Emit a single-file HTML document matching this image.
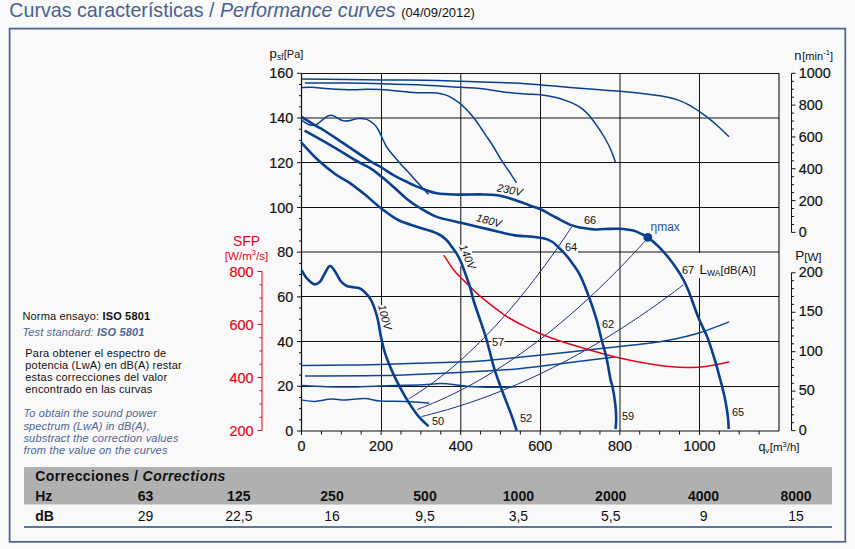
<!DOCTYPE html>
<html><head><meta charset="utf-8"><style>
html,body{margin:0;padding:0;background:#f9f9f9;}
body{width:855px;height:549px;overflow:hidden;position:relative;font-family:"Liberation Sans", sans-serif;}
svg{position:absolute;left:0;top:0;}
svg text{font-family:"Liberation Sans", sans-serif;}
</style></head><body>
<svg width="855" height="549" viewBox="0 0 855 549">
<rect x="9.6" y="28.6" width="835.7" height="513.2" fill="none" stroke="#4a6090" stroke-width="1.7"/>
<text x="9.3" y="16.8" font-size="19.65" fill="#476190">Curvas características / <tspan font-style="italic">Performance curves</tspan> <tspan font-size="13" fill="#111">(04/09/2012)</tspan></text>
<path d="M301.5,118.00 H779 M301.5,162.50 H779 M301.5,207.50 H779 M301.5,252.00 H779 M301.5,296.50 H779 M301.5,341.50 H779 M301.5,386.50 H779 M381.50,73.3 V431 M460.80,73.3 V431 M540.50,73.3 V431 M620.00,73.3 V431 M699.50,73.3 V431" stroke="#111" stroke-width="1" fill="none"/>
<path d="M301.5,73.5 H779 V431" stroke="#111" stroke-width="1.1" fill="none"/>
<path d="M301.5,73.5 V431 H779" stroke="#111" stroke-width="1.2" fill="none"/>
<rect x="455" y="245" width="17" height="21" fill="#f9f9f9"/>
<rect x="376" y="305" width="16" height="35" fill="#f9f9f9"/>
<rect x="564" y="241" width="14" height="12" fill="#f9f9f9"/>
<rect x="491.3" y="336" width="13.3" height="12" fill="#f9f9f9"/>
<rect x="680" y="253" width="77" height="25" fill="#f9f9f9"/>
<path d="M297.0,431.00 h4.5 M299.0,419.82 h2.5 M299.0,408.64 h2.5 M299.0,397.47 h2.5 M297.0,386.29 h4.5 M299.0,375.11 h2.5 M299.0,363.93 h2.5 M299.0,352.75 h2.5 M297.0,341.57 h4.5 M299.0,330.40 h2.5 M299.0,319.22 h2.5 M299.0,308.04 h2.5 M297.0,296.86 h4.5 M299.0,285.68 h2.5 M299.0,274.51 h2.5 M299.0,263.33 h2.5 M297.0,252.15 h4.5 M299.0,240.97 h2.5 M299.0,229.79 h2.5 M299.0,218.62 h2.5 M297.0,207.44 h4.5 M299.0,196.26 h2.5 M299.0,185.08 h2.5 M299.0,173.90 h2.5 M297.0,162.73 h4.5 M299.0,151.55 h2.5 M299.0,140.37 h2.5 M299.0,129.19 h2.5 M297.0,118.01 h4.5 M299.0,106.83 h2.5 M299.0,95.66 h2.5 M299.0,84.48 h2.5 M297.0,73.30 h4.5 M301.50,431 v4.0 M321.40,431 v3.5 M341.29,431 v3.5 M361.19,431 v3.5 M381.08,431 v4.0 M400.98,431 v3.5 M420.87,431 v3.5 M440.77,431 v3.5 M460.67,431 v4.0 M480.56,431 v3.5 M500.46,431 v3.5 M520.35,431 v3.5 M540.25,431 v4.0 M560.14,431 v3.5 M580.04,431 v3.5 M599.94,431 v3.5 M619.83,431 v4.0 M639.73,431 v3.5 M659.62,431 v3.5 M679.52,431 v3.5 M699.41,431 v4.0 M719.31,431 v3.5 M739.21,431 v3.5 M759.10,431 v3.5" stroke="#111" stroke-width="1" fill="none"/>
<path d="M262,271.5 V430.5 M257.5,430.50 H262 M259.5,417.25 H262 M259.5,404.00 H262 M259.5,390.75 H262 M257.5,377.50 H262 M259.5,364.25 H262 M259.5,351.00 H262 M259.5,337.75 H262 M257.5,324.50 H262 M259.5,311.25 H262 M259.5,298.00 H262 M259.5,284.75 H262 M257.5,271.50 H262" stroke="#e2061f" stroke-width="1" fill="none"/>
<path d="M791.5,73.3 V232.4 M791.5,232.40 h4.0 M791.5,224.44 h2.5 M791.5,216.49 h2.5 M791.5,208.53 h2.5 M791.5,200.58 h4.0 M791.5,192.62 h2.5 M791.5,184.67 h2.5 M791.5,176.72 h2.5 M791.5,168.76 h4.0 M791.5,160.81 h2.5 M791.5,152.85 h2.5 M791.5,144.90 h2.5 M791.5,136.94 h4.0 M791.5,128.99 h2.5 M791.5,121.03 h2.5 M791.5,113.08 h2.5 M791.5,105.12 h4.0 M791.5,97.16 h2.5 M791.5,89.21 h2.5 M791.5,81.25 h2.5 M791.5,73.30 h4.0 M791.5,272.8 V430.6 M791.5,430.60 h4.0 M791.5,422.71 h2.5 M791.5,414.82 h2.5 M791.5,406.93 h2.5 M791.5,399.04 h2.5 M791.5,391.15 h4.0 M791.5,383.26 h2.5 M791.5,375.37 h2.5 M791.5,367.48 h2.5 M791.5,359.59 h2.5 M791.5,351.70 h4.0 M791.5,343.81 h2.5 M791.5,335.92 h2.5 M791.5,328.03 h2.5 M791.5,320.14 h2.5 M791.5,312.25 h4.0 M791.5,304.36 h2.5 M791.5,296.47 h2.5 M791.5,288.58 h2.5 M791.5,280.69 h2.5 M791.5,272.80 h4.0" stroke="#111" stroke-width="1" fill="none"/>
<path d="M301.50,79.10 C309.05,79.15 333.40,79.27 346.80,79.40 C360.20,79.53 368.85,79.75 381.90,79.90 C394.95,80.05 411.95,80.07 425.10,80.30 C438.25,80.53 449.98,80.97 460.80,81.30 C471.62,81.63 480.95,82.00 490.00,82.30 C499.05,82.60 506.67,82.67 515.10,83.10 C523.53,83.53 531.45,84.17 540.60,84.90 C549.75,85.63 561.20,86.77 570.00,87.50 C578.80,88.23 585.05,88.67 593.40,89.30 C601.75,89.93 611.33,90.52 620.10,91.30 C628.87,92.08 639.35,93.25 646.00,94.00 C652.65,94.75 654.75,94.82 660.00,95.80 C665.25,96.78 672.63,98.35 677.50,99.90 C682.37,101.45 685.48,103.12 689.20,105.10 C692.92,107.08 696.48,109.55 699.80,111.80 C703.12,114.05 705.98,116.10 709.10,118.60 C712.22,121.10 715.18,123.78 718.50,126.80 C721.82,129.82 727.25,135.05 729.00,136.70" stroke="#08408f" stroke-width="1.5" fill="none" stroke-linejoin="round" stroke-linecap="butt" />
<path d="M304.90,82.90 C311.88,82.93 333.97,82.95 346.80,83.10 C359.63,83.25 368.85,83.45 381.90,83.80 C394.95,84.15 411.95,84.62 425.10,85.20 C438.25,85.78 451.65,86.77 460.80,87.30 C469.95,87.83 471.93,87.52 480.00,88.40 C488.07,89.28 501.40,91.67 509.20,92.60 C517.00,93.53 521.57,93.63 526.80,94.00 C532.03,94.37 535.73,94.23 540.60,94.80 C545.47,95.37 551.77,96.43 556.00,97.40 C560.23,98.37 562.90,99.47 566.00,100.60 C569.10,101.73 571.93,102.87 574.60,104.20 C577.27,105.53 579.57,106.72 582.00,108.60 C584.43,110.48 586.30,112.03 589.20,115.50 C592.10,118.97 596.25,124.65 599.40,129.40 C602.55,134.15 605.92,139.90 608.10,144.00 C610.28,148.10 611.28,150.97 612.50,154.00 C613.72,157.03 614.92,160.83 615.40,162.20" stroke="#08408f" stroke-width="1.5" fill="none" stroke-linejoin="round" stroke-linecap="butt" />
<path d="M301.50,87.50 C303.20,87.47 307.08,87.10 311.70,87.30 C316.32,87.50 322.38,88.30 329.20,88.70 C336.02,89.10 346.35,89.62 352.60,89.70 C358.85,89.78 362.02,89.22 366.70,89.20 C371.38,89.18 375.15,89.25 380.70,89.60 C386.25,89.95 393.58,90.77 400.00,91.30 C406.42,91.83 413.07,92.53 419.20,92.80 C425.33,93.07 432.32,92.52 436.80,92.90 C441.28,93.28 443.40,94.15 446.10,95.10 C448.80,96.05 450.65,97.18 453.00,98.60 C455.35,100.02 458.03,101.87 460.20,103.60 C462.37,105.33 464.20,107.18 466.00,109.00 C467.80,110.82 469.33,112.53 471.00,114.50 C472.67,116.47 474.33,118.55 476.00,120.80 C477.67,123.05 479.33,125.53 481.00,128.00 C482.67,130.47 484.10,132.77 486.00,135.60 C487.90,138.43 489.75,140.78 492.40,145.00 C495.05,149.22 498.98,156.30 501.90,160.90 C504.82,165.50 507.48,168.95 509.90,172.60 C512.32,176.25 515.32,181.10 516.40,182.80" stroke="#08408f" stroke-width="1.5" fill="none" stroke-linejoin="round" stroke-linecap="butt" />
<path d="M301.50,119.80 C301.92,120.15 303.07,121.23 304.00,121.90 C304.93,122.57 306.10,123.30 307.10,123.80 C308.10,124.30 309.02,124.65 310.00,124.90 C310.98,125.15 311.92,125.35 313.00,125.30 C314.08,125.25 315.42,125.10 316.50,124.60 C317.58,124.10 318.33,123.22 319.50,122.30 C320.67,121.38 322.25,120.10 323.50,119.10 C324.75,118.10 325.92,116.92 327.00,116.30 C328.08,115.68 329.00,115.52 330.00,115.40 C331.00,115.28 331.77,115.17 333.00,115.60 C334.23,116.03 335.98,117.22 337.40,118.00 C338.82,118.78 340.13,119.80 341.50,120.30 C342.87,120.80 344.18,120.97 345.60,121.00 C347.02,121.03 347.85,120.92 350.00,120.50 C352.15,120.08 355.72,118.68 358.50,118.50 C361.28,118.32 364.17,118.52 366.70,119.40 C369.23,120.28 371.75,122.03 373.70,123.80 C375.65,125.57 376.87,127.38 378.40,130.00 C379.93,132.62 381.38,136.47 382.90,139.50 C384.42,142.53 384.78,144.42 387.50,148.20 C390.22,151.98 395.30,157.72 399.20,162.20 C403.10,166.68 407.00,170.80 410.90,175.10 C414.80,179.40 419.67,184.78 422.60,188.00 C425.53,191.22 427.52,193.33 428.50,194.40" stroke="#08408f" stroke-width="1.5" fill="none" stroke-linejoin="round" stroke-linecap="butt" />
<path d="M408.70,398.88 C409.61,398.33 412.32,396.68 414.14,395.54 C415.95,394.40 417.76,393.23 419.57,392.04 C421.39,390.84 423.20,389.62 425.01,388.36 C426.82,387.11 428.63,385.84 430.45,384.53 C432.26,383.22 434.07,381.89 435.88,380.53 C437.70,379.17 439.51,377.78 441.32,376.36 C443.13,374.94 444.94,373.50 446.76,372.03 C448.57,370.56 450.38,369.06 452.19,367.53 C454.01,366.01 455.82,364.45 457.63,362.87 C459.44,361.29 461.25,359.68 463.07,358.04 C464.88,356.41 466.69,354.74 468.50,353.05 C470.32,351.36 472.13,349.64 473.94,347.89 C475.75,346.15 477.56,344.37 479.38,342.57 C481.19,340.77 483.00,338.94 484.81,337.08 C486.63,335.22 488.44,333.34 490.25,331.43 C492.06,329.52 493.87,327.58 495.69,325.61 C497.50,323.64 499.31,321.65 501.12,319.63 C502.94,317.60 504.75,315.55 506.56,313.48 C508.37,311.40 510.18,309.29 512.00,307.16 C513.81,305.03 515.62,302.87 517.43,300.68 C519.25,298.50 521.06,296.28 522.87,294.04 C524.68,291.80 526.49,289.53 528.31,287.23 C530.12,284.93 531.93,282.61 533.74,280.25 C535.56,277.90 537.37,275.52 539.18,273.11 C540.99,270.70 542.80,268.27 544.62,265.81 C546.43,263.34 548.24,260.85 550.05,258.34 C551.87,255.82 553.68,253.27 555.49,250.70 C557.30,248.13 559.11,245.53 560.93,242.90 C562.74,240.27 564.55,237.62 566.36,234.93 C568.18,232.25 570.89,228.16 571.80,226.80" stroke="#1f2e88" stroke-width="1" fill="none" stroke-linejoin="round" stroke-linecap="butt" />
<path d="M417.00,409.53 C418.28,409.04 422.11,407.60 424.67,406.59 C427.22,405.58 429.78,404.53 432.33,403.46 C434.89,402.38 437.44,401.27 440.00,400.13 C442.56,398.99 445.11,397.82 447.67,396.62 C450.22,395.42 452.78,394.18 455.33,392.92 C457.89,391.65 460.44,390.36 463.00,389.03 C465.56,387.70 468.11,386.34 470.67,384.95 C473.22,383.56 475.78,382.14 478.33,380.68 C480.89,379.23 483.44,377.74 486.00,376.22 C488.56,374.71 491.11,373.16 493.67,371.58 C496.22,370.00 498.78,368.38 501.33,366.74 C503.89,365.10 506.44,363.42 509.00,361.72 C511.56,360.01 514.11,358.27 516.67,356.50 C519.22,354.73 521.78,352.93 524.33,351.10 C526.89,349.26 529.44,347.40 532.00,345.50 C534.56,343.61 537.11,341.68 539.67,339.72 C542.22,337.76 544.78,335.77 547.33,333.75 C549.89,331.73 552.44,329.68 555.00,327.59 C557.56,325.51 560.11,323.39 562.67,321.24 C565.22,319.09 567.78,316.91 570.33,314.70 C572.89,312.49 575.44,310.25 578.00,307.98 C580.56,305.70 583.11,303.40 585.67,301.06 C588.22,298.72 590.78,296.35 593.33,293.95 C595.89,291.55 598.44,289.12 601.00,286.66 C603.56,284.19 606.11,281.70 608.67,279.17 C611.22,276.65 613.78,274.09 616.33,271.50 C618.89,268.91 621.44,266.29 624.00,263.64 C626.56,260.98 629.11,258.30 631.67,255.58 C634.22,252.87 636.78,250.12 639.33,247.34 C641.89,244.56 645.72,240.32 647.00,238.91" stroke="#1f2e88" stroke-width="1" fill="none" stroke-linejoin="round" stroke-linecap="butt" />
<path d="M421.50,416.57 C422.95,416.21 427.32,415.14 430.23,414.39 C433.14,413.64 436.05,412.86 438.96,412.06 C441.87,411.26 444.78,410.43 447.69,409.58 C450.60,408.73 453.51,407.85 456.42,406.95 C459.33,406.04 462.24,405.11 465.15,404.16 C468.06,403.21 470.97,402.23 473.88,401.22 C476.79,400.21 479.70,399.18 482.61,398.13 C485.52,397.07 488.43,395.99 491.34,394.88 C494.25,393.77 497.16,392.64 500.07,391.48 C502.98,390.32 505.89,389.14 508.80,387.93 C511.71,386.72 514.62,385.49 517.53,384.23 C520.44,382.97 523.35,381.68 526.26,380.37 C529.17,379.06 532.08,377.72 534.99,376.36 C537.90,375.00 540.81,373.61 543.72,372.20 C546.63,370.79 549.54,369.35 552.45,367.89 C555.36,366.42 558.27,364.93 561.18,363.42 C564.09,361.90 567.00,360.36 569.91,358.80 C572.82,357.23 575.73,355.64 578.64,354.02 C581.55,352.41 584.46,350.77 587.37,349.10 C590.28,347.43 593.19,345.74 596.10,344.02 C599.01,342.30 601.92,340.56 604.83,338.79 C607.74,337.02 610.65,335.22 613.56,333.40 C616.47,331.58 619.38,329.74 622.29,327.87 C625.20,326.00 628.11,324.10 631.02,322.18 C633.93,320.26 636.84,318.31 639.75,316.34 C642.66,314.36 645.57,312.36 648.48,310.34 C651.39,308.32 654.30,306.27 657.21,304.19 C660.12,302.12 663.03,300.02 665.94,297.89 C668.85,295.77 671.76,293.61 674.67,291.44 C677.58,289.26 681.94,285.93 683.40,284.83" stroke="#1f2e88" stroke-width="1" fill="none" stroke-linejoin="round" stroke-linecap="butt" />
<path d="M301.50,365.60 C309.58,365.50 336.92,365.18 350.00,365.00 C363.08,364.82 368.62,364.80 380.00,364.50 C391.38,364.20 404.87,363.63 418.30,363.20 C431.73,362.77 450.32,362.25 460.60,361.90 C470.88,361.55 470.23,361.87 480.00,361.10 C489.77,360.33 504.20,358.83 519.20,357.30 C534.20,355.77 553.25,353.70 570.00,351.90 C586.75,350.10 604.70,348.20 619.70,346.50 C634.70,344.80 650.25,343.07 660.00,341.70 C669.75,340.33 671.62,339.78 678.20,338.30 C684.78,336.82 691.00,335.53 699.50,332.80 C708.00,330.07 724.25,323.72 729.20,321.90" stroke="#0c4796" stroke-width="1.5" fill="none" stroke-linejoin="round" stroke-linecap="butt" />
<path d="M305.00,376.00 C317.50,375.93 359.00,375.97 380.00,375.60 C401.00,375.23 417.57,374.33 431.00,373.80 C444.43,373.27 452.43,372.83 460.60,372.40 C468.77,371.97 470.23,371.80 480.00,371.20 C489.77,370.60 504.20,370.27 519.20,368.80 C534.20,367.33 554.10,364.35 570.00,362.40 C585.90,360.45 607.17,357.98 614.60,357.10" stroke="#0c4796" stroke-width="1.5" fill="none" stroke-linejoin="round" stroke-linecap="butt" />
<path d="M301.50,385.60 C308.75,385.83 331.92,386.95 345.00,387.00 C358.08,387.05 367.78,386.25 380.00,385.90 C392.22,385.55 408.10,385.28 418.30,384.90 C428.50,384.52 434.83,383.60 441.20,383.60 C447.57,383.60 451.82,384.40 456.50,384.90 C461.18,385.40 462.95,386.20 469.30,386.60 C475.65,387.00 486.70,387.27 494.60,387.30 C502.50,387.33 513.02,386.88 516.70,386.80" stroke="#0c4796" stroke-width="1.5" fill="none" stroke-linejoin="round" stroke-linecap="butt" />
<path d="M301.50,400.00 C303.75,400.23 310.08,401.57 315.00,401.40 C319.92,401.23 326.00,399.23 331.00,399.00 C336.00,398.77 339.33,400.07 345.00,400.00 C350.67,399.93 359.17,398.42 365.00,398.60 C370.83,398.78 373.25,400.62 380.00,401.10 C386.75,401.58 397.32,401.18 405.50,401.50 C413.68,401.82 425.17,402.75 429.10,403.00" stroke="#0c4796" stroke-width="1.5" fill="none" stroke-linejoin="round" stroke-linecap="butt" />
<path d="M443.80,255.10 C445.67,257.85 450.77,266.48 455.00,271.60 C459.23,276.72 465.02,281.70 469.20,285.80 C473.38,289.90 474.27,291.37 480.10,296.20 C485.93,301.03 496.92,309.85 504.20,314.80 C511.48,319.75 517.57,322.67 523.80,325.90 C530.03,329.13 535.57,331.68 541.60,334.20 C547.63,336.72 552.38,338.50 560.00,341.00 C567.62,343.50 577.35,346.37 587.30,349.20 C597.25,352.03 607.58,355.28 619.70,358.00 C631.82,360.72 648.73,363.93 660.00,365.50 C671.27,367.07 679.72,367.23 687.30,367.40 C694.88,367.57 698.52,367.40 705.50,366.50 C712.48,365.60 725.25,362.75 729.20,362.00" stroke="#e2061f" stroke-width="1.5" fill="none" stroke-linejoin="round" stroke-linecap="butt" />
<path d="M301.50,116.80 C303.92,118.30 312.35,123.60 316.00,125.80 C319.65,128.00 319.12,127.28 323.40,130.00 C327.68,132.72 333.93,136.93 341.70,142.10 C349.47,147.27 363.33,156.77 370.00,161.00 C376.67,165.23 377.80,165.15 381.70,167.50 C385.60,169.85 389.50,172.85 393.40,175.10 C397.30,177.35 400.82,178.95 405.10,181.00 C409.38,183.05 413.82,185.35 419.10,187.40 C424.38,189.45 430.35,192.10 436.80,193.30 C443.25,194.50 450.60,194.42 457.80,194.60 C465.00,194.78 473.38,194.28 480.00,194.40 C486.62,194.52 491.65,194.38 497.50,195.30 C503.35,196.22 509.83,198.25 515.10,199.90 C520.37,201.55 524.85,203.63 529.10,205.20 C533.35,206.77 536.12,207.25 540.60,209.30 C545.08,211.35 550.90,214.87 556.00,217.50 C561.10,220.13 566.92,223.38 571.20,225.10 C575.48,226.82 578.00,227.08 581.70,227.80 C585.40,228.52 589.50,229.20 593.40,229.40 C597.30,229.60 600.82,229.10 605.10,229.00 C609.38,228.90 614.42,228.53 619.10,228.80 C623.78,229.07 629.30,229.65 633.20,230.60 C637.10,231.55 640.07,233.37 642.50,234.50 C644.93,235.63 645.07,235.35 647.80,237.40 C650.53,239.45 654.92,242.75 658.90,246.80 C662.88,250.85 668.00,256.88 671.70,261.70 C675.40,266.52 678.37,271.02 681.10,275.70 C683.83,280.38 685.23,282.87 688.10,289.80 C690.97,296.73 695.08,309.37 698.30,317.30 C701.52,325.23 704.68,330.42 707.40,337.40 C710.12,344.38 712.75,353.27 714.60,359.20 C716.45,365.13 717.27,368.53 718.50,373.00 C719.73,377.47 720.98,382.00 722.00,386.00 C723.02,390.00 723.80,393.17 724.60,397.00 C725.40,400.83 726.20,405.17 726.80,409.00 C727.40,412.83 727.88,416.67 728.20,420.00 C728.52,423.33 728.62,427.50 728.70,429.00" stroke="#08408f" stroke-width="2.6" fill="none" stroke-linejoin="round" stroke-linecap="butt" />
<path d="M304.60,130.70 C308.97,133.15 322.40,140.52 330.80,145.40 C339.20,150.28 348.43,156.20 355.00,160.00 C361.57,163.80 365.72,165.37 370.20,168.20 C374.68,171.03 378.03,173.90 381.90,177.00 C385.77,180.10 389.13,183.07 393.40,186.80 C397.67,190.53 403.20,195.95 407.50,199.40 C411.80,202.85 414.32,204.58 419.20,207.50 C424.08,210.42 429.87,214.37 436.80,216.90 C443.73,219.43 454.20,221.12 460.80,222.70 C467.40,224.28 470.28,224.93 476.40,226.40 C482.52,227.87 491.05,230.00 497.50,231.50 C503.95,233.00 509.25,234.52 515.10,235.40 C520.95,236.28 527.73,236.27 532.60,236.80 C537.47,237.33 540.98,237.73 544.30,238.60 C547.62,239.47 550.30,240.70 552.50,242.00 C554.70,243.30 555.40,244.40 557.50,246.40 C559.60,248.40 562.55,251.08 565.10,254.00 C567.65,256.92 570.25,260.25 572.80,263.90 C575.35,267.55 577.68,270.33 580.40,275.90 C583.12,281.47 586.43,290.08 589.10,297.30 C591.77,304.52 594.27,311.92 596.40,319.20 C598.53,326.48 600.23,334.63 601.90,341.00 C603.57,347.37 604.95,350.90 606.40,357.40 C607.85,363.90 609.58,375.13 610.60,380.00 C611.62,384.87 611.72,382.55 612.50,386.60 C613.28,390.65 614.68,399.15 615.30,404.30 C615.92,409.45 616.15,413.38 616.20,417.50 C616.25,421.62 615.70,427.08 615.60,429.00" stroke="#08408f" stroke-width="2.6" fill="none" stroke-linejoin="round" stroke-linecap="butt" />
<path d="M301.00,142.10 C303.75,145.00 311.82,154.18 317.50,159.50 C323.18,164.82 329.63,170.02 335.10,174.00 C340.57,177.98 345.23,179.88 350.30,183.40 C355.37,186.92 360.43,191.00 365.50,195.10 C370.57,199.20 375.25,203.85 380.70,208.00 C386.15,212.15 391.78,216.77 398.20,220.00 C404.62,223.23 412.77,225.18 419.20,227.40 C425.63,229.62 432.33,231.28 436.80,233.30 C441.27,235.32 443.53,237.28 446.00,239.50 C448.47,241.72 449.77,244.15 451.60,246.60 C453.43,249.05 455.37,251.47 457.00,254.20 C458.63,256.93 459.93,259.53 461.40,263.00 C462.87,266.47 464.37,271.00 465.80,275.00 C467.23,279.00 468.73,282.83 470.00,287.00 C471.27,291.17 471.88,295.00 473.40,300.00 C474.92,305.00 477.08,310.98 479.10,317.00 C481.12,323.02 483.80,330.60 485.50,336.10 C487.20,341.60 487.78,344.42 489.30,350.00 C490.82,355.58 492.35,362.52 494.60,369.60 C496.85,376.68 500.07,385.12 502.80,392.50 C505.53,399.88 508.68,407.55 511.00,413.90 C513.32,420.25 515.75,427.82 516.70,430.60" stroke="#08408f" stroke-width="2.6" fill="none" stroke-linejoin="round" stroke-linecap="butt" />
<path d="M301.50,270.20 C302.42,271.57 304.92,276.07 307.00,278.40 C309.08,280.73 311.85,283.62 314.00,284.20 C316.15,284.78 318.13,283.65 319.90,281.90 C321.67,280.15 322.95,276.33 324.60,273.70 C326.25,271.07 328.05,266.48 329.80,266.10 C331.55,265.72 333.25,268.87 335.10,271.40 C336.95,273.93 338.95,278.87 340.90,281.30 C342.85,283.73 344.65,285.02 346.80,286.00 C348.95,286.98 351.47,286.72 353.80,287.20 C356.13,287.68 358.47,287.53 360.80,288.90 C363.13,290.27 365.85,293.05 367.80,295.40 C369.75,297.75 371.03,299.73 372.50,303.00 C373.97,306.27 375.57,311.50 376.60,315.00 C377.63,318.50 377.97,320.33 378.70,324.00 C379.43,327.67 379.93,332.12 381.00,337.00 C382.07,341.88 383.13,347.33 385.10,353.30 C387.07,359.27 390.25,367.00 392.80,372.80 C395.35,378.60 397.65,383.00 400.40,388.10 C403.15,393.20 406.32,398.73 409.30,403.40 C412.28,408.07 415.10,412.28 418.30,416.10 C421.50,419.92 426.80,424.60 428.50,426.30" stroke="#08408f" stroke-width="2.6" fill="none" stroke-linejoin="round" stroke-linecap="butt" />
<circle cx="647.8" cy="237.4" r="4.4" fill="#08408f"/>
<text x="293.3" y="436.0" font-size="14.4" text-anchor="end" fill="#111" stroke="#111" stroke-width="0.2" >0</text>
<text x="293.3" y="391.3" font-size="14.4" text-anchor="end" fill="#111" stroke="#111" stroke-width="0.2" >20</text>
<text x="293.3" y="346.6" font-size="14.4" text-anchor="end" fill="#111" stroke="#111" stroke-width="0.2" >40</text>
<text x="293.3" y="301.9" font-size="14.4" text-anchor="end" fill="#111" stroke="#111" stroke-width="0.2" >60</text>
<text x="293.3" y="257.2" font-size="14.4" text-anchor="end" fill="#111" stroke="#111" stroke-width="0.2" >80</text>
<text x="293.3" y="212.5" font-size="14.4" text-anchor="end" fill="#111" stroke="#111" stroke-width="0.2" >100</text>
<text x="293.3" y="167.8" font-size="14.4" text-anchor="end" fill="#111" stroke="#111" stroke-width="0.2" >120</text>
<text x="293.3" y="123.1" font-size="14.4" text-anchor="end" fill="#111" stroke="#111" stroke-width="0.2" >140</text>
<text x="293.3" y="78.4" font-size="14.4" text-anchor="end" fill="#111" stroke="#111" stroke-width="0.2" >160</text>
<text x="301.5" y="451.0" font-size="14.4" text-anchor="middle" fill="#111" stroke="#111" stroke-width="0.2" >0</text>
<text x="381.1" y="451.0" font-size="14.4" text-anchor="middle" fill="#111" stroke="#111" stroke-width="0.2" >200</text>
<text x="460.7" y="451.0" font-size="14.4" text-anchor="middle" fill="#111" stroke="#111" stroke-width="0.2" >400</text>
<text x="540.3" y="451.0" font-size="14.4" text-anchor="middle" fill="#111" stroke="#111" stroke-width="0.2" >600</text>
<text x="619.9" y="451.0" font-size="14.4" text-anchor="middle" fill="#111" stroke="#111" stroke-width="0.2" >800</text>
<text x="699.5" y="451.0" font-size="14.4" text-anchor="middle" fill="#111" stroke="#111" stroke-width="0.2" >1000</text>
<text x="253.5" y="435.5" font-size="14.4" text-anchor="end" fill="#e2061f" stroke="#e2061f" stroke-width="0.2" >200</text>
<text x="253.5" y="382.5" font-size="14.4" text-anchor="end" fill="#e2061f" stroke="#e2061f" stroke-width="0.2" >400</text>
<text x="253.5" y="329.5" font-size="14.4" text-anchor="end" fill="#e2061f" stroke="#e2061f" stroke-width="0.2" >600</text>
<text x="253.5" y="276.5" font-size="14.4" text-anchor="end" fill="#e2061f" stroke="#e2061f" stroke-width="0.2" >800</text>
<text x="798.8" y="237.4" font-size="14.4" text-anchor="start" fill="#111" stroke="#111" stroke-width="0.2" >0</text>
<text x="798.8" y="205.5" font-size="14.4" text-anchor="start" fill="#111" stroke="#111" stroke-width="0.2" >200</text>
<text x="798.8" y="173.7" font-size="14.4" text-anchor="start" fill="#111" stroke="#111" stroke-width="0.2" >400</text>
<text x="798.8" y="141.8" font-size="14.4" text-anchor="start" fill="#111" stroke="#111" stroke-width="0.2" >600</text>
<text x="798.8" y="110.0" font-size="14.4" text-anchor="start" fill="#111" stroke="#111" stroke-width="0.2" >800</text>
<text x="798.8" y="78.1" font-size="14.4" text-anchor="start" fill="#111" stroke="#111" stroke-width="0.2" >1000</text>
<text x="798.8" y="434.8" font-size="14.4" text-anchor="start" fill="#111" stroke="#111" stroke-width="0.2" >0</text>
<text x="798.8" y="395.4" font-size="14.4" text-anchor="start" fill="#111" stroke="#111" stroke-width="0.2" >50</text>
<text x="798.8" y="355.9" font-size="14.4" text-anchor="start" fill="#111" stroke="#111" stroke-width="0.2" >100</text>
<text x="798.8" y="316.4" font-size="14.4" text-anchor="start" fill="#111" stroke="#111" stroke-width="0.2" >150</text>
<text x="798.8" y="277.0" font-size="14.4" text-anchor="start" fill="#111" stroke="#111" stroke-width="0.2" >200</text>
<text x="269.5" y="57.8" font-size="13" fill="#111">p<tspan font-size="8.3" dy="1.8" dx="0.3">sf</tspan><tspan font-size="11" dy="-1.8" dx="0.3">[Pa]</tspan></text>
<text x="794.3" y="59.7" font-size="13" fill="#111">n<tspan font-size="11" dx="0.7">[min</tspan><tspan font-size="7.5" dy="-4.8" dx="0.3">-1</tspan><tspan font-size="11" dy="4.8">]</tspan></text>
<text x="795.3" y="260.3" font-size="13.5" fill="#111">P<tspan font-size="11.5" dy="1">[W]</tspan></text>
<text x="758.4" y="451" font-size="12.5" fill="#111">q<tspan font-size="8" dy="1.5">v</tspan><tspan font-size="11.5" dy="-1.5" dx="0.4">[m</tspan><tspan font-size="7.5" dy="-4.5">3</tspan><tspan font-size="11.5" dy="4.5">/h]</tspan></text>
<text x="246.5" y="245.8" font-size="14" fill="#e2061f" text-anchor="middle">SFP</text>
<text x="246.5" y="259.9" font-size="11.6" fill="#e2061f" text-anchor="middle">[W/m<tspan font-size="7.5" dy="-4.7">3</tspan><tspan dy="4.7">/s]</tspan></text>
<text x="0" y="0" font-size="11" fill="#111" font-style="italic" transform="translate(496.5,191.2) rotate(11)">230V</text>
<text x="0" y="0" font-size="11" fill="#111" font-style="italic" transform="translate(475.6,221.0) rotate(15)">180V</text>
<text x="0" y="0" font-size="11" fill="#111" font-style="italic" transform="translate(459.0,246.5) rotate(67)">140V</text>
<text x="0" y="0" font-size="11" fill="#111" font-style="italic" transform="translate(377.9,305.8) rotate(75)">100V</text>
<text x="584.0" y="223.8" font-size="11" fill="#111">66</text>
<text x="565.0" y="250.9" font-size="11" fill="#111">64</text>
<text x="492.0" y="346.0" font-size="11" fill="#111">57</text>
<text x="602.0" y="328.0" font-size="11" fill="#111">62</text>
<text x="432.0" y="425.0" font-size="11" fill="#111">50</text>
<text x="520.0" y="422.0" font-size="11" fill="#111">52</text>
<text x="622.0" y="420.0" font-size="11" fill="#111">59</text>
<text x="732.0" y="416.0" font-size="11" fill="#111">65</text>
<text x="682.0" y="274.0" font-size="11" fill="#111">67</text>
<text x="699.6" y="274" font-size="13.5" fill="#111">L<tspan font-size="8.5" dy="1.8">WA</tspan><tspan font-size="11.3" dy="-1.8">[dB(A)]</tspan></text>
<text x="650.5" y="231.3" font-size="12" fill="#2a5599">&#951;max</text>
<text x="22.4" y="319.7" font-size="11" fill="#111" textLength="127.7" lengthAdjust="spacing">Norma ensayo: <tspan font-weight="bold">ISO 5801</tspan></text>
<text x="22.4" y="336.1" font-size="11" fill="#4f6594" font-style="italic" textLength="122" lengthAdjust="spacing">Test standard: <tspan font-weight="bold">ISO 5801</tspan></text>
<text x="25.3" y="356.5" font-size="11" fill="#111" textLength="140.8" lengthAdjust="spacing">Para obtener el espectro de</text>
<text x="25.3" y="368.5" font-size="11" fill="#111" textLength="156.3" lengthAdjust="spacing">potencia (LwA) en dB(A) restar</text>
<text x="25.3" y="381.0" font-size="11" fill="#111" textLength="141.8" lengthAdjust="spacing">estas correcciones del valor</text>
<text x="25.3" y="393.2" font-size="11" fill="#111" textLength="126.9" lengthAdjust="spacing">encontrado en las curvas</text>
<text x="23.4" y="416.9" font-size="11" fill="#4f6594" font-style="italic" textLength="133.2" lengthAdjust="spacing">To obtain the sound power</text>
<text x="23.4" y="430.1" font-size="11" fill="#4f6594" font-style="italic" textLength="126.3" lengthAdjust="spacing">spectrum (LwA) in dB(A),</text>
<text x="23.4" y="442.2" font-size="11" fill="#4f6594" font-style="italic" textLength="155.0" lengthAdjust="spacing">substract the correction values</text>
<text x="23.4" y="454.1" font-size="11" fill="#4f6594" font-style="italic" textLength="144.0" lengthAdjust="spacing">from the value on the curves</text>
<rect x="24" y="467" width="808" height="37.5" fill="#b0b0b0"/>
<rect x="24" y="526.1" width="808" height="1.8" fill="#52678f"/>
<text x="35.2" y="480.5" font-size="14" font-weight="bold" fill="#111" textLength="190.2" lengthAdjust="spacing">Correcciones / <tspan font-style="italic">Corrections</tspan></text>
<text x="35.2" y="500.8" font-size="14" font-weight="bold" fill="#111">Hz</text>
<text x="35.2" y="521.4" font-size="14" font-weight="bold" fill="#111">dB</text>
<text x="145.5" y="500.8" font-size="14" font-weight="bold" fill="#111" text-anchor="middle">63</text>
<text x="145.5" y="521.4" font-size="14" fill="#111" text-anchor="middle">29</text>
<text x="238.8" y="500.8" font-size="14" font-weight="bold" fill="#111" text-anchor="middle">125</text>
<text x="238.8" y="521.4" font-size="14" fill="#111" text-anchor="middle">22,5</text>
<text x="332.0" y="500.8" font-size="14" font-weight="bold" fill="#111" text-anchor="middle">250</text>
<text x="332.0" y="521.4" font-size="14" fill="#111" text-anchor="middle">16</text>
<text x="425.0" y="500.8" font-size="14" font-weight="bold" fill="#111" text-anchor="middle">500</text>
<text x="425.0" y="521.4" font-size="14" fill="#111" text-anchor="middle">9,5</text>
<text x="518.4" y="500.8" font-size="14" font-weight="bold" fill="#111" text-anchor="middle">1000</text>
<text x="518.4" y="521.4" font-size="14" fill="#111" text-anchor="middle">3,5</text>
<text x="610.7" y="500.8" font-size="14" font-weight="bold" fill="#111" text-anchor="middle">2000</text>
<text x="610.7" y="521.4" font-size="14" fill="#111" text-anchor="middle">5,5</text>
<text x="703.6" y="500.8" font-size="14" font-weight="bold" fill="#111" text-anchor="middle">4000</text>
<text x="703.6" y="521.4" font-size="14" fill="#111" text-anchor="middle">9</text>
<text x="796.0" y="500.8" font-size="14" font-weight="bold" fill="#111" text-anchor="middle">8000</text>
<text x="796.0" y="521.4" font-size="14" fill="#111" text-anchor="middle">15</text>
</svg>
</body></html>
